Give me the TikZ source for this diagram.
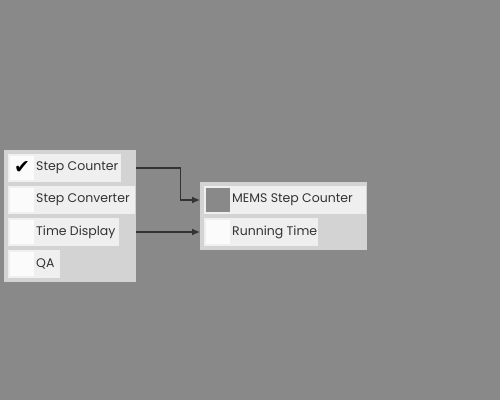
\documentclass[tikz,border=0pt]{standalone}
\usepackage{fontspec}
\setmainfont{Poppins}
\newfontfamily\symfont{DejaVu Sans}
\usetikzlibrary{arrows.meta}
\definecolor{bggray}{HTML}{898989}
\definecolor{panelgray}{HTML}{D3D3D3}
\definecolor{itemgray}{HTML}{EFEFEF}
\definecolor{boxwhite}{HTML}{FBFBFB}
\definecolor{inkgray}{HTML}{333333}
\begin{document}
\begin{tikzpicture}[x=1pt, y=-1pt, font=\fontsize{12.5}{14}\selectfont]

    % --- DEFINE STYLES ---
    % Style for the two grey panels
    \tikzstyle{panel} = [rectangle, fill=panelgray, inner sep=0pt, anchor=north west]
    % Style for one row of a panel
    \tikzstyle{item} = [rectangle, fill=itemgray, inner sep=0pt, minimum height=28, anchor=west]
    % Style for the small square in front of a row
    \tikzstyle{tick} = [rectangle, fill=boxwhite, inner sep=0pt, minimum size=24, anchor=west]
    % Style for the row texts
    \tikzstyle{lbl} = [inner sep=0pt, anchor=west, text=inkgray]
    % Style for the connectors
    \tikzstyle{link} = [draw=inkgray, line width=1.3pt, -{Latex[length=8pt, width=7pt]}]

    \fill[bggray] (0,0) rectangle (500,400);
    \useasboundingbox (0,0) rectangle (500,400);

    % Panels
    \node[panel, minimum width=132, minimum height=132] (modules) at (4,150) {};
    \node[panel, minimum width=167, minimum height=68] (sources) at (200,182) {};

    % --- LEFT PANEL ROWS ---
    \foreach \i/\t/\w in {1/Step Counter/113, 2/Step Converter/127, 3/Time Display/111, 4/QA/52} {
        \node[item, minimum width=\w] (m\i) at (8, 136+32*\i) {};
        \node[tick] (mb\i) at (10, 136+32*\i) {};
        \node[lbl] (ml\i) at (36, 136+32*\i) {\t};
    }
    % Checked module
    \node[lbl, font=\symfont\fontsize{19}{19}\selectfont, text=black] (check) at ([yshift=1]mb1.center) [anchor=center] {✔};

    % --- RIGHT PANEL ROWS ---
    \foreach \i/\t/\w in {1/MEMS Step Counter/162, 2/Running Time/114} {
        \node[item, minimum width=\w] (s\i) at (204, 168+32*\i) {};
        \node[tick] (sb\i) at (206, 168+32*\i) {};
        \node[lbl] (sl\i) at (232, 168+32*\i) {\t};
    }
    % Source in use
    \node[tick, fill=bggray] (used) at (206, 200) {};

    % Connectors
    \draw[link] (m1.east -| modules.east) -- ++(44,0) |- (s1.west -| sources.west);
    \draw[link] (m3.east -| modules.east) -- (s2.west -| sources.west);
\end{tikzpicture}
\end{document}
